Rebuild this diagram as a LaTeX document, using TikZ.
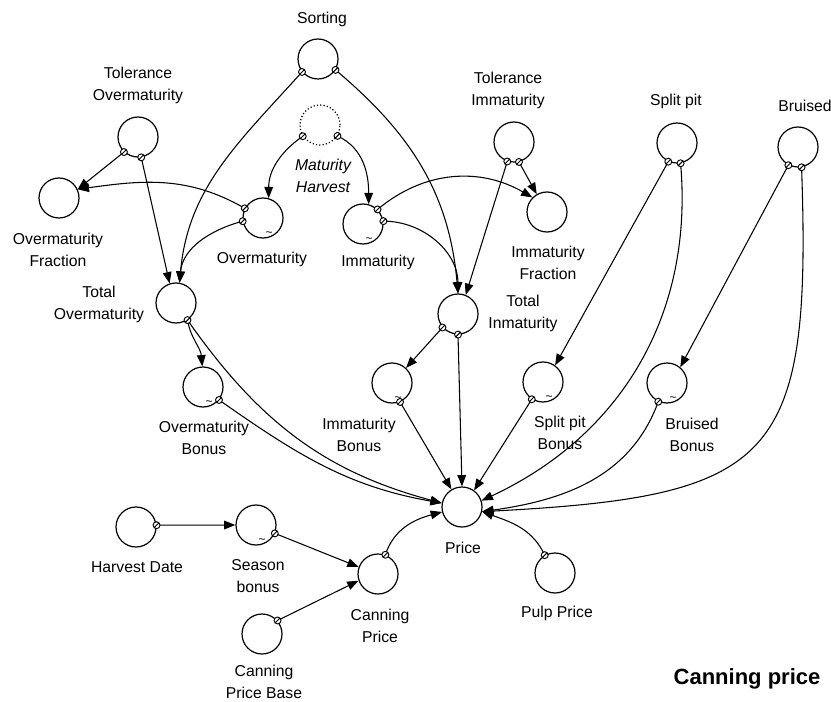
\documentclass[tikz,border=0pt]{standalone}
\usepackage{fontspec}
\setmainfont{Liberation Sans}
\usetikzlibrary{arrows.meta}
\tikzset{
  var/.style={circle, draw, line width=0.9pt, minimum size=30pt, inner sep=0pt},
  ghost/.style={var, dash pattern=on 0.9pt off 1.6pt},
  wavy/.style={label={[font=\small, inner sep=0pt, label distance=-5.5pt]-80:\textasciitilde}},
  link/.style={-{Triangle[length=8.5pt,width=6.5pt]}, line width=0.8pt},
  lbl/.style={align=center, font=\fontsize{11.8}{16.5}\selectfont}
}
\newcommand{\port}[1]{\filldraw[fill=white, line width=0.7pt] (#1) circle[radius=2.6pt] ++(-1.8pt,-1.8pt) -- ++(3.6pt,3.6pt);}

\begin{document}
\begin{tikzpicture}[x=0.75pt, y=-0.75pt]
\useasboundingbox (0,0) rectangle (831,702);
% variables
\node[var] (sorting) at (318,59) {};
\node[var] (tolover) at (138,137) {};
\node[ghost] (matharv) at (320,125) {};
\node[var] (overfrac) at (59,198) {};
\node[var, wavy] (overm) at (263,218) {};
\node[var, wavy] (immat) at (363,224) {};
\node[var] (totover) at (176,303) {};
\node[var] (tolimm) at (514,142) {};
\node[var] (immfrac) at (547,212) {};
\node[var] (splitpit) at (677,143) {};
\node[var] (bruised) at (798,147) {};
\node[var] (totinm) at (458,314) {};
\node[var, wavy] (overbon) at (203,387) {};
\node[var, wavy] (immbon) at (392,383) {};
\node[var, wavy] (splitbon) at (543,382) {};
\node[var, wavy] (brubon) at (667,383) {};
\node[var] (price) at (462,507) {};
\node[var] (pulp) at (555,573) {};
\node[var] (harvest) at (136,527) {};
\node[var, wavy] (season) at (256,525) {};
\node[var] (canning) at (378,574) {};
\node[var] (cpbase) at (262,634) {};
% names
\node[lbl] (sortingt) at (322,19) {Sorting};
\node[lbl] (tolovert) at (138,85) {Tolerance\\Overmaturity};
\node[lbl, font=\fontsize{11.8}{16.5}\selectfont\itshape] (matharvt) at (323,176) {Maturity\\Harvest};
\node[lbl] (overfract) at (58,250) {Overmaturity\\Fraction};
\node[lbl] (overmt) at (262,259) {Overmaturity};
\node[lbl] (immatt) at (378,262) {Immaturity};
\node[lbl] (totovert) at (99,304) {Total\\Overmaturity};
\node[lbl] (tolimmt) at (508,90) {Tolerance\\Immaturity};
\node[lbl] (immfract) at (548,263) {Immaturity\\Fraction};
\node[lbl] (splitpitt) at (676,101) {Split pit};
\node[lbl] (bruisedt) at (805,106) {Bruised};
\node[lbl] (totinmt) at (523,313) {Total\\Inmaturity};
\node[lbl] (overbont) at (204,438) {Overmaturity\\Bonus};
\node[lbl] (immbont) at (359,435) {Immaturity\\Bonus};
\node[lbl] (splitbont) at (560,433) {Split pit\\Bonus};
\node[lbl] (brubont) at (692,435) {Bruised\\Bonus};
\node[lbl] (pricet) at (463,548) {Price};
\node[lbl] (pulpt) at (557,613) {Pulp Price};
\node[lbl] (harvestt) at (137,567) {Harvest Date};
\node[lbl] (seasont) at (258,576) {Season\\bonus};
\node[lbl] (canningt) at (380,626) {Canning\\Price};
\node[lbl] (cpbaset) at (264,682) {Canning\\Price Base};
\node[font=\fontsize{16.5}{20}\selectfont\bfseries] (title) at (747,679) {Canning price};
% links, upper part
\draw[link] (sorting.219) to[out=228,in=85] (totover.80);
\draw[link] (sorting.328) to[out=-40,in=95] (totinm.90);
\draw[link] (tolover.227) -- (overfrac.25);
\draw[link] (tolover.279) -- (totover.108);
\draw[link] (matharv.213) to[out=215,in=90] (overm.74);
\draw[link] (matharv.328) to[out=-25,in=90] (immat.74);
\draw[link] (overm.152) to[out=150,in=8] (overfrac.25);
\draw[link] (overm.189) to[out=195,in=85] (totover.80);
\draw[link] (immat.45) to[out=40,in=150] (immfrac.135);
\draw[link] (immat.8) to[out=0,in=90] (totinm.90);
\draw[link] (tolimm.284) -- (immfrac.120);
\draw[link] (tolimm.251) -- (totinm.68);
% links, lower part
\draw[link] (totover.304) to[out=-80,in=95] (overbon.92);
\draw[link] (totover.304) to[out=-55,in=165] (price.169);
\draw[link] (overbon.321) to[out=-35,in=170] (price.169);
\draw[link] (totinm.221) -- (immbon.47);
\draw[link] (totinm.270) -- (price.90);
\draw[link] (immbon.293) -- (price.121);
\draw[link] (splitpit.245) -- (splitbon.54);
\draw[link] (splitpit.280) to[out=-85,in=25] (price.18);
\draw[link] (splitbon.237) -- (price.54);
\draw[link] (bruised.242) -- (brubon.50);
\draw[link] (bruised.280) to[out=-88,in=3,looseness=1.6] (price.-13);
\draw[link] (brubon.245) to[out=-110,in=8] (price.-13);
\draw[link] (pulp.120) to[out=115,in=-20] (price.-13);
\draw[link] (harvest.5) -- (season.180);
\draw[link] (season.336) -- (canning.160);
\draw[link] (cpbase.41) -- (canning.199);
\draw[link] (canning.69) to[out=72,in=195] (price.194);
% ports
\port{sorting.219} \port{sorting.328}
\port{tolover.227} \port{tolover.279}
\port{matharv.213} \port{matharv.328}
\port{overm.152} \port{overm.189}
\port{immat.45} \port{immat.8}
\port{tolimm.251} \port{tolimm.284}
\port{totover.304}
\port{totinm.221} \port{totinm.270}
\port{splitpit.245} \port{splitpit.280}
\port{bruised.242} \port{bruised.280}
\port{overbon.321} \port{immbon.293}
\port{splitbon.237} \port{brubon.245}
\port{pulp.120} \port{harvest.5}
\port{season.336} \port{cpbase.41}
\port{canning.69}
\end{tikzpicture}
\end{document}
